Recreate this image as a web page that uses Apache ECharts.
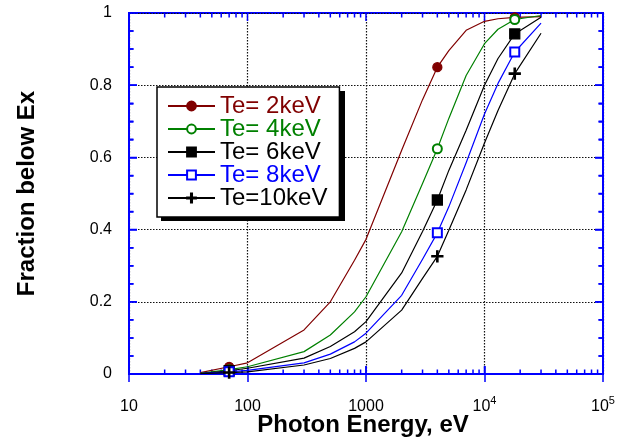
<!DOCTYPE html>
<html><head><meta charset="utf-8">
<script src="https://cdn.jsdelivr.net/npm/echarts@6/dist/echarts.min.js"></script>
<style>html,body{margin:0;padding:0;background:#fff}#c{width:630px;height:445px}</style>
</head><body><div id="c"></div>
<script>
// ---- data ----
const energies = [40, 70, 100, 300, 500, 800, 1000, 2000, 3000, 4000, 5000, 7000, 10000, 13000, 18000, 30000];
const te2  = [0.004, 0.020, 0.031, 0.122, 0.200, 0.315, 0.373, 0.620, 0.760, 0.850, 0.896, 0.952, 0.977, 0.984, 0.988, 0.990];
const te4  = [0.002, 0.012, 0.020, 0.062, 0.108, 0.172, 0.214, 0.394, 0.528, 0.624, 0.708, 0.827, 0.915, 0.955, 0.982, 0.993];
const te6  = [0.001, 0.009, 0.016, 0.044, 0.076, 0.117, 0.145, 0.280, 0.395, 0.482, 0.564, 0.675, 0.800, 0.874, 0.942, 0.988];
const te8  = [0.001, 0.006, 0.010, 0.031, 0.055, 0.089, 0.113, 0.218, 0.318, 0.391, 0.463, 0.585, 0.720, 0.805, 0.892, 0.972];
const te10 = [0.001, 0.004, 0.006, 0.025, 0.043, 0.071, 0.089, 0.177, 0.265, 0.326, 0.398, 0.510, 0.640, 0.730, 0.832, 0.944];
const markerEnergies = [70, 4000, 18000];
const seriesNames = ['Te= 2keV', 'Te= 4keV', 'Te= 6keV', 'Te= 8keV', 'Te=10keV'];
const seriesValues = [te2, te4, te6, te8, te10];
const xTickLabels = {10: '10', 100: '100', 1000: '1000', 10000: '10{s|4}', 100000: '10{s|5}'};
const yTickLabels = {0: '0', 0.2: '0.2', 0.4: '0.4', 0.6: '0.6', 0.8: '0.8', 1: '1'};
const xTitle = 'Photon Energy, eV';
const yTitle = 'Fraction below Ex';

// ---- axis decoration (tick positions on the axes' own scales) ----
const xMajorTicks = [100, 1000, 10000];
const xMinorTicks = [];
for (let d = 10; d < 100000; d *= 10) for (let k = 2; k <= 9; k++) xMinorTicks.push(d * k);
const yMajorTicks = [0.2, 0.4, 0.6, 0.8];
const yMinorTicks = [];
for (let k = 1; k < 20; k++) if (k % 4 !== 0) yMinorTicks.push(k / 20);

// ---- styles ----
const FONT = 'Liberation Sans';
const BLUE = '#0000ff';
const styles = [
  {color: '#800000', symbol: 'circle', size: 9},
  {color: '#008000', symbol: 'emptyCircle', size: 9},
  {color: '#000000', symbol: 'rect', size: 10},
  {color: '#0000ff', symbol: 'emptyRect', size: 9},
  {color: '#000000', symbol: 'path://M4.4,0H5.6V4.4H10V5.6H5.6V10H4.4V5.6H0V4.4H4.4Z', size: 11}
];
// tick lengths: y in axis units (1/361 per px), x in decades (1/118.5 per px)
const Y_PER_PX = 1 / 361, DEC_PER_PX = 1 / 118.5;
const MAJOR_PX = 8, MINOR_PX = 4.5;

function xTickSegs(vals, px) {
  const out = [];
  vals.forEach(v => {
    out.push([v, 0], [v, px * Y_PER_PX], [v, '-']);
    out.push([v, 1], [v, 1 - px * Y_PER_PX], [v, '-']);
  });
  return out;
}
function yTickSegs(vals, px) {
  const out = [];
  const f = Math.pow(10, px * DEC_PER_PX);
  vals.forEach(v => {
    out.push([10, v], [10 * f, v], [10, '-']);
    out.push([100000, v], [100000 / f, v], [100000, '-']);
  });
  return out;
}
function tickSeries(data) {
  return {type: 'line', xAxisIndex: 0, yAxisIndex: 0, symbol: 'none', silent: true,
    connectNulls: false, z: 1, emphasis: {disabled: true}, animation: false,
    lineStyle: {color: BLUE, width: 1.5}, data: data};
}

const series = seriesNames.map((name, si) => ({
  name: name, type: 'line', xAxisIndex: 0, yAxisIndex: 0,
  symbol: styles[si].symbol, symbolSize: styles[si].size, showSymbol: true,
  lineStyle: {color: styles[si].color, width: 1.2},
  itemStyle: {color: styles[si].color, borderColor: styles[si].color, borderWidth: 1.3},
  emphasis: {disabled: true}, z: 3,
  data: energies.map((e, i) => markerEnergies.includes(e)
    ? [e, seriesValues[si][i]]
    : {value: [e, seriesValues[si][i]], symbol: 'none'})
}));
series.push(tickSeries(xTickSegs(xMajorTicks, MAJOR_PX)));
series.push(tickSeries(xTickSegs(xMinorTicks, MINOR_PX)));
series.push(tickSeries(yTickSegs(yMajorTicks, MAJOR_PX)));
series.push(tickSeries(yTickSegs(yMinorTicks, MINOR_PX)));

const xBase = {
  type: 'log', logBase: 10, min: 10, max: 100000,
  axisLine: {show: true, lineStyle: {color: BLUE, width: 2}},
  axisTick: {show: true, inside: true, length: 8, lineStyle: {color: BLUE, width: 1.5}},
};
const yBase = {
  type: 'value', min: 0, max: 1, interval: 0.2,
  axisLine: {show: true, lineStyle: {color: BLUE, width: 2}},
  axisTick: {show: true, inside: true, length: 8, lineStyle: {color: BLUE, width: 1.5}},
  minorTick: {show: true, splitNumber: 4, length: 4.5, lineStyle: {color: BLUE, width: 1.5}},
};
const option = {
  animation: false,
  grid: {left: 129, top: 13, right: 27, bottom: 71, outerBoundsMode: 'none',
    show: true, borderColor: BLUE, borderWidth: 2, backgroundColor: 'transparent'},
  graphic: [
    {type: 'rect', left: 161, top: 91, z: 1, silent: true,
      shape: {width: 184, height: 130}, style: {fill: '#000'}},
    {type: 'text', x: 363, y: 425, silent: true,
      style: {text: xTitle, font: 'bold 24px "Liberation Sans"', fill: '#000', align: 'center', verticalAlign: 'middle'}},
    {type: 'text', x: 27, y: 193.5, rotation: Math.PI / 2, silent: true,
      style: {text: yTitle, font: 'bold 24px "Liberation Sans"', fill: '#000', align: 'center', verticalAlign: 'middle'}}
  ],
  legend: {
    z: 10,
    orient: 'vertical', left: 157, top: 87,
    padding: [7, 12, 7, 10], itemGap: -1, itemWidth: 47, itemHeight: 11,
    backgroundColor: '#fff', borderColor: '#000', borderWidth: 1.5,
    selectedMode: false,
    textStyle: {fontFamily: FONT, fontSize: 24},
    data: seriesNames.map((n, i) => ({name: n, textStyle: {color: styles[i].color}}))
  },
  xAxis: [
    Object.assign({}, xBase, {
      position: 'bottom',
      axisLabel: {
        show: true, margin: 21, fontFamily: FONT, fontSize: 16, color: '#000', lineHeight: 24,
        formatter: v => xTickLabels[Math.round(v)] || '',
        rich: {s: {fontFamily: FONT, fontSize: 11, lineHeight: 12, verticalAlign: 'top', color: '#000'}}
      },
      splitLine: {show: true, lineStyle: {color: '#111', width: 1.2, type: [1.5, 1.5]}}
    }),
    Object.assign({}, xBase, {position: 'top', axisLabel: {show: false}, splitLine: {show: false}})
  ],
  yAxis: [
    Object.assign({}, yBase, {
      position: 'left',
      axisLabel: {show: true, margin: 17, fontFamily: FONT, fontSize: 16, color: '#000',
        formatter: v => yTickLabels[Math.round(v * 10) / 10] || ''},
      splitLine: {show: true, lineStyle: {color: '#111', width: 1.2, type: [1.5, 1.5]}}
    }),
    Object.assign({}, yBase, {position: 'right', axisLabel: {show: false}, splitLine: {show: false}})
  ],
  series: series
};
const chart = echarts.init(document.getElementById('c'));
chart.setOption(option);
</script>
</body></html>
